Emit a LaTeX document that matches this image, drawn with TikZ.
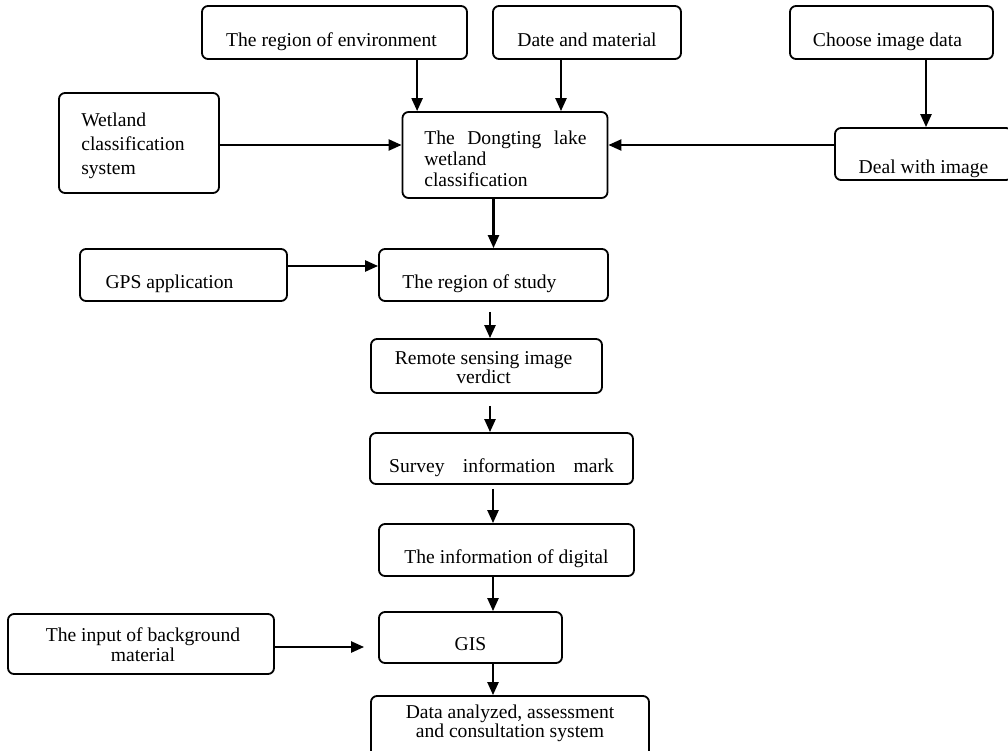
\documentclass[tikz,border=0pt]{standalone}
\usepackage{fontspec}
\setmainfont{Liberation Serif}
\usetikzlibrary{arrows.meta}

\tikzset{
	box/.style={draw, rounded corners=6pt, line width=1.8pt, inner sep=0pt},
	lbl/.style={font=\fontsize{19.6}{24}\selectfont, inner sep=0pt},
	arr/.style={line width=2.3pt, -{Triangle[length=13pt,width=11pt]}},
}

\begin{document}
\begin{tikzpicture}[x=1pt, y=-1pt]
		%%%%% START %%%%%
		\useasboundingbox (0, 0) rectangle (1008, 751);
		\clip (0, 0) rectangle (1008, 751);
		
		\node[box, minimum width=265pt, minimum height=53pt] (env) at (334.5, 32.5) {};
		\node[box, minimum width=188pt, minimum height=53pt] (date) at (587, 32.5) {};
		\node[box, minimum width=203pt, minimum height=53pt] (choose) at (891.5, 32.5) {};
		\node[box, minimum width=160pt, minimum height=100pt] (wetland) at (139, 143) {};
		\node[box, minimum width=205pt, minimum height=86pt] (dong) at (505, 155) {};
		\node[box, minimum width=177pt, minimum height=52pt] (deal) at (923.5, 154) {};
		\node[box, minimum width=207pt, minimum height=52pt] (gps) at (183.5, 275) {};
		\node[box, minimum width=229pt, minimum height=52pt] (study) at (493.5, 275) {};
		\node[box, minimum width=231pt, minimum height=54pt] (remote) at (486.5, 366) {};
		\node[box, minimum width=263pt, minimum height=51pt] (survey) at (501.5, 458.5) {};
		\node[box, minimum width=255pt, minimum height=52pt] (digital) at (506.5, 550) {};
		\node[box, minimum width=266pt, minimum height=60pt] (input) at (141, 644) {};
		\node[box, minimum width=183pt, minimum height=51pt] (gis) at (470.5, 637.5) {};
		\node[box, minimum width=278pt, minimum height=62pt] (data) at (510, 727) {};
		
		\node[lbl, anchor=base] (envT) at ([xshift=-3pt, yshift=-14.5pt]env.center) {The region of environment};
		\node[lbl, anchor=base] (dateT) at ([yshift=-14.5pt]date.center) {Date and material};
		\node[lbl, anchor=base] (chooseT) at ([xshift=-4pt, yshift=-14.5pt]choose.center) {Choose image data};
		\node[lbl, anchor=west, align=left] (wetlandT) at ([xshift=23pt, yshift=-3pt]wetland.west) {Wetland\\classification\\system};
		\node[lbl, anchor=west, align=left, font=\fontsize{19.6}{21}\selectfont] (dongT) at ([xshift=22.5pt, yshift=-3.5pt]dong.west)
			{The\hspace{0.64em}Dongting\hspace{0.64em}lake\\wetland\\classification};
		\node[lbl, anchor=base] (dealT) at ([yshift=-20pt]deal.center) {Deal with image};
		\node[lbl, anchor=base] (gpsT) at ([xshift=-14pt, yshift=-13pt]gps.center) {GPS application};
		\node[lbl, anchor=base] (studyT) at ([xshift=-14pt, yshift=-13pt]study.center) {The region of study};
		\node[lbl, align=center, font=\fontsize{19.6}{15}\selectfont] (remoteT) at ([xshift=-3pt, yshift=-2pt]remote.center)
			{Remote sensing image\\verdict};
		\node[lbl, anchor=base] (surveyT) at ([yshift=-13.5pt]survey.center) {Survey\hspace{0.93em}information\hspace{0.93em}mark};
		\node[lbl, anchor=base] (digitalT) at ([yshift=-13pt]digital.center) {The information of digital};
		\node[lbl, align=center, font=\fontsize{19.6}{20}\selectfont] (inputT) at ([xshift=2pt, yshift=-1pt]input.center)
			{The input of background\\material};
		\node[lbl, anchor=base] (gisT) at ([yshift=-12.5pt]gis.center) {GIS};
		\node[lbl, align=center, font=\fontsize{19.6}{14.5}\selectfont] (dataT) at ([yshift=4pt]data.center)
			{Data analyzed, assessment\\and consultation system};
		
		% connectors
		\coordinate (envIn) at ([xshift=15.5pt]dong.north west);
		\coordinate (dateIn) at ([xshift=56pt]dong.north);
		\coordinate (dealIn) at ([xshift=2.5pt]deal.north);
		\coordinate (dongW) at ([yshift=10pt]dong.west);
		\coordinate (dongE) at ([yshift=10pt]dong.east);
		
		\draw[arr] (env.south -| envIn) -- (envIn);
		\draw[arr] (date.south -| dateIn) -- (dateIn);
		\draw[arr] (choose.south -| dealIn) -- (dealIn);
		\draw[arr] (wetland.east |- dongW) -- (dongW);
		\draw[arr] (deal.west |- dongE) -- (dongE);
		
		\draw[arr] (dong.south -| study.north) -- (study.north);
		\draw[arr] ([yshift=9pt]gps.east) -- ([yshift=9pt]gps.east -| study.west);
		\draw[arr, shorten <=10pt] ([xshift=3.5pt]remote.north |- study.south) -- ([xshift=3.5pt]remote.north);
		\draw[arr, shorten <=12pt] ([xshift=3.5pt]remote.south) -- ([xshift=3.5pt]remote.south |- survey.north);
		\draw[arr, shorten <=4pt] ([xshift=-8.5pt]survey.south) -- ([xshift=-8.5pt]survey.south |- digital.north);
		\draw[arr] ([xshift=22.5pt]gis.north |- digital.south) -- ([xshift=22.5pt]gis.north);
		\draw[arr, shorten >=14pt] ([yshift=-3pt]input.east) -- ([yshift=-3pt]input.east -| gis.west);
		\draw[arr] ([xshift=22.5pt]gis.south) -- ([xshift=22.5pt]gis.south |- data.north);
		
		%%%%% END %%%%%
\end{tikzpicture}
\end{document}
